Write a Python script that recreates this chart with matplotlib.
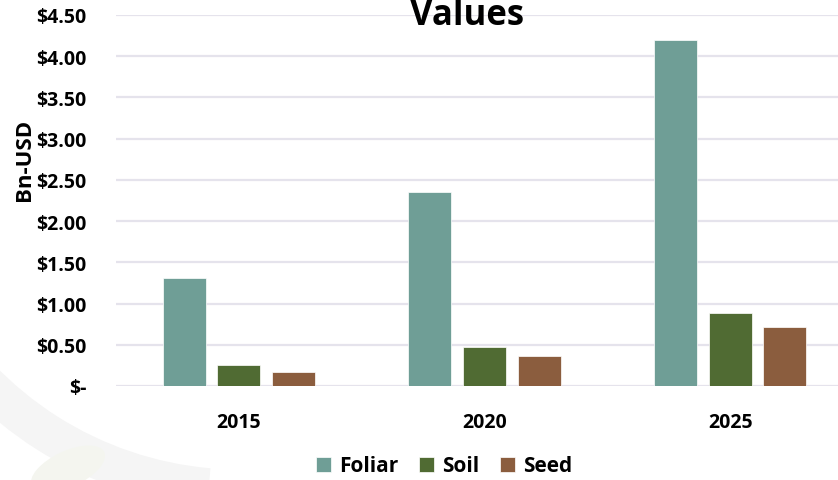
import numpy as np
import matplotlib.pyplot as plt
from matplotlib.patches import Arc, Ellipse

years = ["2015", "2020", "2025"]
foliar = [1.31, 2.35, 4.20]
soil = [0.26, 0.47, 0.88]
seed = [0.17, 0.36, 0.72]
series_names = ["Foliar", "Soil", "Seed"]
colors = ["#6f9e96", "#506b33", "#8b5d3e"]

plt.rcParams['font.family'] = ['Open Sans', 'DejaVu Sans']
plt.rcParams['font.weight'] = 'bold'

fig = plt.figure(figsize=(8.38, 4.81), dpi=100)

# faint watermark in the lower left
wm = fig.add_axes([0, 0, 1, 1], zorder=-1)
wm.set_xlim(0, 838)
wm.set_ylim(481, 0)
wm.axis("off")
wm.add_patch(Arc((240, 130), 720, 720, theta1=95, theta2=150,
                 color="#f5f5f5", lw=28))
wm.add_patch(Ellipse((68, 470), 80, 36, angle=-25, color="#f4f5ef", lw=0))

# axes: left edge at 116px, right at 853px (plot runs off the image)
ax = fig.add_axes([116 / 838, (481 - 387) / 481, 737 / 838, 371 / 481])
ax.patch.set_alpha(0)

x = np.arange(len(years))
w = 0.175
off = 0.222
for i, (vals, name) in enumerate(zip([foliar, soil, seed], series_names)):
    ax.bar(x + (i - 1) * off, vals, width=w, color=colors[i], label=name,
           zorder=3, edgecolor="white", linewidth=0.5)

ax.set_xlim(-0.5, 2.5)
ax.set_ylim(0, 4.5)
yt = np.arange(0, 4.51, 0.5)
ax.set_yticks(yt)
ax.set_yticklabels(["$-"] + ["${:.2f}".format(v) for v in yt[1:]])
ax.set_xticks(x)
ax.set_xticklabels(years)
ax.tick_params(axis="y", length=0, pad=21, labelsize=14)
ax.tick_params(axis="x", length=0, pad=19, labelsize=14)
for s in ax.spines.values():
    s.set_visible(False)
ax.yaxis.grid(True, color="#e5e3ec", linewidth=1.6, zorder=0)
ax.set_axisbelow(True)

fig.text(25 / 838, 1 - 160 / 481, "Bn-USD", rotation=90, ha="center",
         va="center", fontsize=16, fontweight="bold")
fig.text(467 / 838, 1 - 25 / 481, "Values", ha="center", va="baseline",
         fontsize=25, fontweight="bold")

fig.legend(loc="center", bbox_to_anchor=(444 / 838, 1 - 467 / 481), ncol=3,
           frameon=False, fontsize=15, handlelength=0.7, handleheight=0.7,
           handletextpad=0.4, columnspacing=1.0)

fig.savefig("out.png", dpi=100)
